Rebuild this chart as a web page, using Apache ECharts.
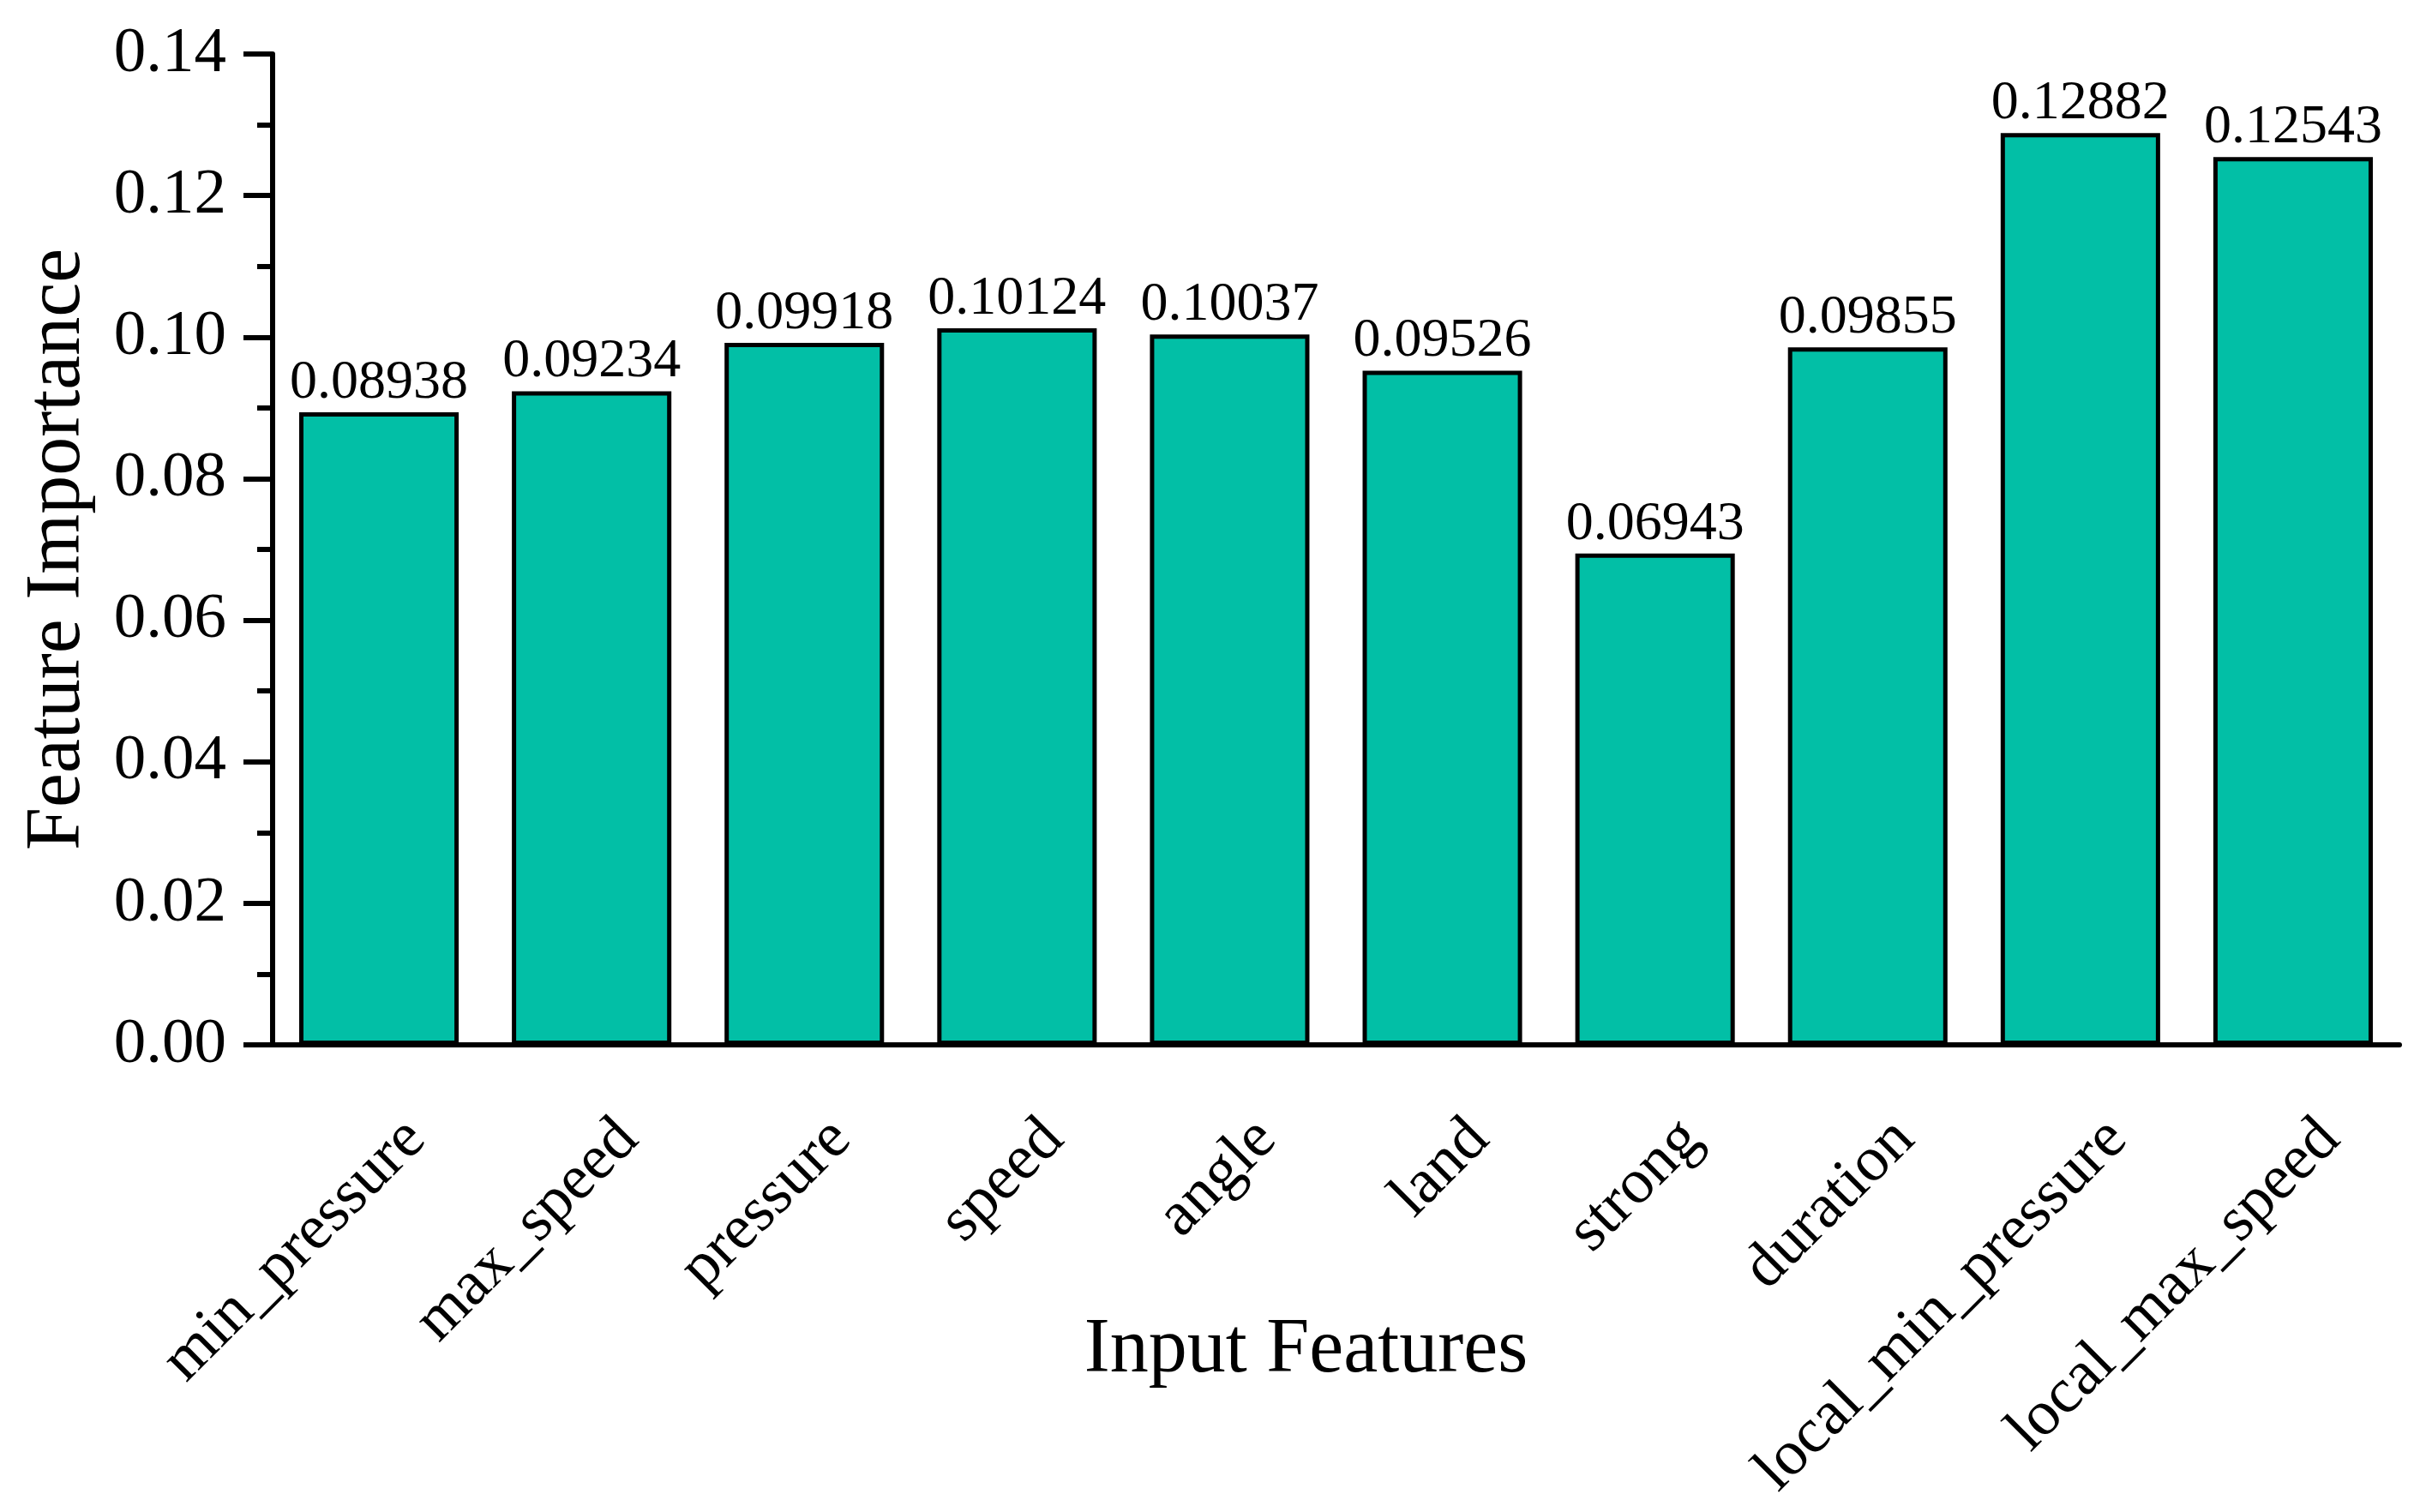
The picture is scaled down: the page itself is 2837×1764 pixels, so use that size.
<!DOCTYPE html>
<html>
<head>
<meta charset="utf-8">
<title>Feature Importance</title>
<script src="https://cdn.jsdelivr.net/npm/echarts@6/dist/echarts.min.js"></script>
<style>
    html, body {margin: 0; padding: 0; background: #fff;}
    #chart {width: 2837px; height: 1764px;}
</style>
</head>
<body>
<div id="chart"></div>
<script>
    // data
    var features = ['min_pressure', 'max_speed', 'pressure', 'speed', 'angle', 'land',
        'strong', 'duration', 'local_min_pressure', 'local_max_speed'];
    var importance = [0.08938, 0.09234, 0.09918, 0.10124, 0.10037, 0.09526,
        0.06943, 0.09855, 0.12882, 0.12543];
    var yTicks = [0, 0.02, 0.04, 0.06, 0.08, 0.10, 0.12, 0.14];

    var font = 'Liberation Serif';
    var chart = echarts.init(document.getElementById('chart'));

    chart.setOption({
        animation: false,
        backgroundColor: '#fff',
        grid: {
            left: 318,
            right: 38,
            top: 63,
            bottom: 545,
            outerBoundsMode: 'none'
        },
        xAxis: [
            {
                // labels + long ticks at the category centres
                type: 'category',
                data: features,
                name: 'Input Features',
                nameLocation: 'middle',
                nameGap: 312,
                nameMoveOverlap: false,
                nameTextStyle: {fontFamily: font, fontSize: 90, color: '#000', padding: [0, 70, 0, 0]},
                axisLine: {lineStyle: {color: '#000', width: 6}},
                axisTick: {alignWithLabel: true, length: 34, lineStyle: {color: '#000', width: 6}},
                axisLabel: {
                    rotate: 45,
                    margin: 56,
                    interval: 0,
                    verticalAlign: 'top',
                    padding: [24, 0, 0, 0],
                    fontFamily: font,
                    fontSize: 74,
                    color: '#000'
                }
            },
            {
                // short ticks at the category borders
                type: 'category',
                data: features,
                position: 'bottom',
                offset: 0,
                axisLine: {show: false},
                axisTick: {length: 18, lineStyle: {color: '#000', width: 6}},
                axisLabel: {show: false}
            }
        ],
        yAxis: {
            type: 'value',
            min: yTicks[0],
            max: yTicks[yTicks.length - 1],
            interval: 0.02,
            name: 'Feature Importance',
            nameLocation: 'middle',
            nameGap: 205,
            nameMoveOverlap: false,
            nameTextStyle: {fontFamily: font, fontSize: 90, color: '#000'},
            splitLine: {show: false},
            axisLine: {show: true, lineStyle: {color: '#000', width: 6}},
            axisTick: {show: true, length: 34, lineStyle: {color: '#000', width: 6}},
            minorTick: {show: true, splitNumber: 2, length: 18, lineStyle: {color: '#000', width: 6}},
            axisLabel: {
                margin: 54,
                fontFamily: font,
                fontSize: 75,
                color: '#000',
                formatter: function (v) {
                    return v.toFixed(2);
                }
            }
        },
        series: [
            {
                type: 'bar',
                data: importance,
                barCategoryGap: '25%',
                itemStyle: {color: '#02BFA6', borderColor: '#000', borderWidth: 5},
                label: {
                    show: true,
                    position: 'top',
                    distance: 2,
                    fontFamily: font,
                    fontSize: 64,
                    color: '#000',
                    formatter: function (p) {
                        return p.value.toFixed(5);
                    }
                }
            }
        ]
    });
</script>
</body>
</html>
